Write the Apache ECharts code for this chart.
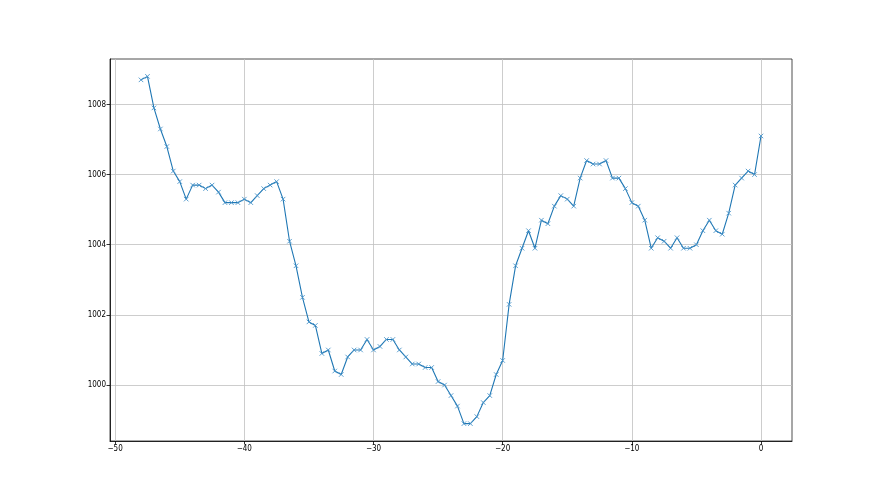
<!DOCTYPE html>
<html>
<head>
<meta charset="utf-8">
<script src="https://cdn.jsdelivr.net/npm/echarts@6/dist/echarts.min.js"></script>
<style>
html,body{margin:0;padding:0;background:#fff;}
#chart{width:880px;height:495px;}
</style>
</head>
<body>
<div id="chart"></div>
<script>
const xValues = [];
// x positions: -48 to 0 in steps of 0.5
const xStart = -48, xStep = 0.5;
const yValues = [
  1008.7, 1008.8, 1007.9, 1007.3, 1006.8, 1006.1, 1005.8, 1005.3, 1005.7, 1005.7,
  1005.6, 1005.7, 1005.5, 1005.2, 1005.2, 1005.2, 1005.3, 1005.2, 1005.4, 1005.6,
  1005.7, 1005.8, 1005.3, 1004.1, 1003.4, 1002.5, 1001.8, 1001.7, 1000.9, 1001.0,
  1000.4, 1000.3, 1000.8, 1001.0, 1001.0, 1001.3, 1001.0, 1001.1, 1001.3, 1001.3,
  1001.0, 1000.8, 1000.6, 1000.6, 1000.5, 1000.5, 1000.1, 1000.0, 999.7, 999.4,
  998.9, 998.9, 999.1, 999.5, 999.7, 1000.3, 1000.7, 1002.3, 1003.4, 1003.9,
  1004.4, 1003.9, 1004.7, 1004.6, 1005.1, 1005.4, 1005.3, 1005.1, 1005.9, 1006.4,
  1006.3, 1006.3, 1006.4, 1005.9, 1005.9, 1005.6, 1005.2, 1005.1, 1004.7, 1003.9,
  1004.2, 1004.1, 1003.9, 1004.2, 1003.9, 1003.9, 1004.0, 1004.4, 1004.7, 1004.4,
  1004.3, 1004.9, 1005.7, 1005.9, 1006.1, 1006.0, 1007.1
];
for (let i = 0; i < yValues.length; i++) xValues.push(xStart + i * xStep);
const xTicks = [-50, -40, -30, -20, -10, 0];
const yTicks = [1000, 1002, 1004, 1006, 1008];

const data = xValues.map((x, i) => [x, yValues[i]]);
const minus = v => String(v).replace('-', '\u2212');

const chart = echarts.init(document.getElementById('chart'), null, {renderer: 'canvas'});
const axisCommon = {
  axisLine: {show: true, onZero: false, lineStyle: {color: '#000', width: 0.8}},
  axisTick: {show: true, inside: false, length: 3.5, lineStyle: {color: '#000', width: 0.8}},
  splitLine: {show: true, lineStyle: {color: '#c0c0c0', width: 0.8}},
  axisLabel: {color: '#000', fontFamily: '"DejaVu Sans Condensed", "DejaVu Sans"', fontSize: 8, margin: 4},
};
chart.setOption({
  animation: false,
  backgroundColor: '#fff',
  grid: {left: 110, right: 88, top: 59, bottom: 54, show: true, borderColor: '#222', borderWidth: 0.8, containLabel: false},
  xAxis: Object.assign({}, axisCommon, {
    type: 'value', min: -50.4, max: 2.4,
    axisTick: Object.assign({}, axisCommon.axisTick, {customValues: xTicks}),
    axisLabel: Object.assign({}, axisCommon.axisLabel, {customValues: xTicks, formatter: v => minus(v)}),
  }),
  yAxis: Object.assign({}, axisCommon, {
    type: 'value', min: 998.405, max: 1009.295,
    axisTick: Object.assign({}, axisCommon.axisTick, {customValues: yTicks}),
    axisLabel: Object.assign({}, axisCommon.axisLabel, {customValues: yTicks, formatter: v => String(v)}),
  }),
  series: [{
    type: 'line',
    data: data,
    lineStyle: {color: '#1f77b4', width: 1.1},
    symbol: 'path://M0,0L10,10M10,0L0,10',
    symbolSize: 4.5,
    showAllSymbol: true,
    itemStyle: {color: 'rgba(0,0,0,0)', borderColor: '#4a94c9', borderWidth: 0.9},
    emphasis: {disabled: true},
  }]
});
</script>
</body>
</html>
